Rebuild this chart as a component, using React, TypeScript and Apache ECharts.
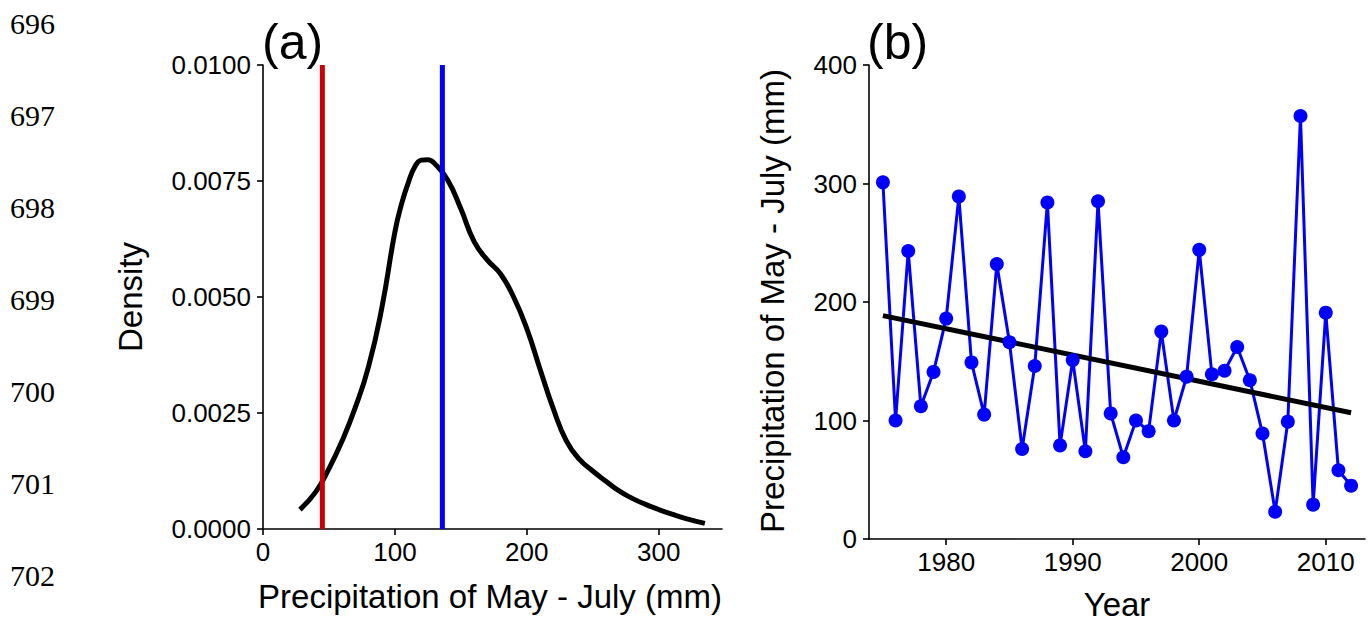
import React, { useEffect, useRef } from "react";
import * as echarts from "echarts";

// ---- Data ----
const lineNumbers = ["696", "697", "698", "699", "700", "701", "702"];

// Panel (a): kernel density of May–July precipitation
const densityX = [28, 40, 50, 60, 70, 80, 90, 100, 105, 110, 115, 120, 125, 130, 140, 150, 160, 170, 180, 190, 200, 210, 220, 230, 240, 250, 260, 270, 280, 290, 300, 310, 320, 335];
const densityY = [0.00042, 0.0008, 0.0013, 0.0019, 0.00262, 0.0035, 0.00475, 0.0064, 0.007, 0.00745, 0.0078, 0.00795, 0.00796, 0.00788, 0.00752, 0.0069, 0.0062, 0.0058, 0.0055, 0.005, 0.00432, 0.00345, 0.0026, 0.0019, 0.0015, 0.00125, 0.00103, 0.00082, 0.00066, 0.00053, 0.00042, 0.00032, 0.00023, 0.00012];
const redLineX = 45;
const blueLineX = 136;
const densityTicks = [0, 100, 200, 300];

// Panel (b): annual May–July precipitation
const years = [1975, 1976, 1977, 1978, 1979, 1980, 1981, 1982, 1983, 1984, 1985, 1986, 1987, 1988, 1989, 1990, 1991, 1992, 1993, 1994, 1995, 1996, 1997, 1998, 1999, 2000, 2001, 2002, 2003, 2004, 2005, 2006, 2007, 2008, 2009, 2010, 2011, 2012];
const precip = [301, 100, 243, 112, 141, 186, 289, 149, 105, 232, 166, 76, 146, 284, 79, 151, 74, 285, 106, 69, 100, 91, 175, 100, 137, 244, 139, 142, 162, 134, 89, 23, 99, 357, 29, 191, 58, 45];
const trendYears = [1975, 2012];
const trendValues = [188.5, 106.5];
const yearTicks = [1980, 1990, 2000, 2010];

const SANS = "'Liberation Sans', Arial, Helvetica, sans-serif";
const SERIF = "'Liberation Serif', 'Times New Roman', serif";

export default function App() {
  const ref = useRef<HTMLDivElement>(null);

  useEffect(() => {
    document.body.style.margin = "0";
    if (!ref.current) return;
    const chart = echarts.init(ref.current, null, { renderer: "svg" });

    const axisLine = { show: true, lineStyle: { color: "#000", width: 1.6 } };
    const axisTick = { show: true, length: 6, inside: false, lineStyle: { color: "#000", width: 1.6 } };
    const labelBase = { color: "#000", fontSize: 26, fontFamily: SANS };

    const graphics: any[] = lineNumbers.map((t, i) => ({
      type: "text",
      x: 10,
      y: 23.5 + i * 92,
      style: { text: t, font: `30px ${SERIF}`, fill: "#000", align: "left", verticalAlign: "middle" },
    }));
    graphics.push(
      { type: "text", x: 262, y: 42, style: { text: "(a)", font: `50px ${SANS}`, fill: "#000", align: "left", verticalAlign: "middle" } },
      { type: "text", x: 867, y: 42, style: { text: "(b)", font: `50px ${SANS}`, fill: "#000", align: "left", verticalAlign: "middle" } },
      { type: "text", x: 130, y: 297, rotation: Math.PI / 2, style: { text: "Density", font: `33px ${SANS}`, fill: "#000", align: "center", verticalAlign: "middle" } },
      { type: "text", x: 490, y: 596, style: { text: "Precipitation of May - July (mm)", font: `33px ${SANS}`, fill: "#000", align: "center", verticalAlign: "middle" } },
      { type: "text", x: 772, y: 301, rotation: Math.PI / 2, style: { text: "Precipitation of May - July (mm)", font: `33px ${SANS}`, fill: "#000", align: "center", verticalAlign: "middle" } },
      { type: "text", x: 1117, y: 604, style: { text: "Year", font: `33px ${SANS}`, fill: "#000", align: "center", verticalAlign: "middle" } }
    );

    chart.setOption({
      animation: false,
      backgroundColor: "#fff",
      grid: [
        { left: 263, top: 65, width: 459, height: 464, containLabel: false },
        { left: 869, top: 65, width: 496, height: 474, containLabel: false },
      ],
      xAxis: [
        {
          type: "value", gridIndex: 0, min: 0, max: 348,
          axisLine, splitLine: { show: false },
          axisTick: { ...axisTick, customValues: densityTicks },
          axisLabel: { ...labelBase, margin: 10, customValues: densityTicks },
        },
        {
          type: "value", gridIndex: 1, min: 1973.9, max: 2013.1,
          axisLine, splitLine: { show: false },
          axisTick: { ...axisTick, customValues: yearTicks },
          axisLabel: { ...labelBase, margin: 10, customValues: yearTicks, formatter: (v: number) => String(v) },
        },
      ],
      yAxis: [
        {
          type: "value", gridIndex: 0, min: 0, max: 0.01, interval: 0.0025,
          axisLine, splitLine: { show: false }, axisTick,
          axisLabel: { ...labelBase, margin: 12, formatter: (v: number) => v.toFixed(4) },
        },
        {
          type: "value", gridIndex: 1, min: 0, max: 400, interval: 100,
          axisLine, splitLine: { show: false }, axisTick,
          axisLabel: { ...labelBase, margin: 12 },
        },
      ],
      series: [
        {
          type: "line", xAxisIndex: 0, yAxisIndex: 0, smooth: 0.5, showSymbol: false,
          data: densityX.map((x, i) => [x, densityY[i]]),
          lineStyle: { color: "#000", width: 5 }, itemStyle: { color: "#000" },
        },
        {
          type: "line", xAxisIndex: 0, yAxisIndex: 0, showSymbol: false,
          data: [[redLineX, 0], [redLineX, 0.01]],
          lineStyle: { color: "#cc0000", width: 5 }, itemStyle: { color: "#cc0000" },
        },
        {
          type: "line", xAxisIndex: 0, yAxisIndex: 0, showSymbol: false,
          data: [[blueLineX, 0], [blueLineX, 0.01]],
          lineStyle: { color: "#0000ff", width: 5 }, itemStyle: { color: "#0000ff" },
        },
        {
          type: "line", xAxisIndex: 1, yAxisIndex: 1, symbol: "circle", symbolSize: 14, showSymbol: true,
          data: years.map((y, i) => [y, precip[i]]),
          lineStyle: { color: "#0000ff", width: 3 }, itemStyle: { color: "#0000ff" },
        },
        {
          type: "line", xAxisIndex: 1, yAxisIndex: 1, showSymbol: false,
          data: trendYears.map((y, i) => [y, trendValues[i]]),
          lineStyle: { color: "#000", width: 5 }, itemStyle: { color: "#000" },
        },
      ],
      graphic: graphics,
    });

    return () => chart.dispose();
  }, []);

  return <div ref={ref} style={{ width: 1371, height: 622 }} />;
}
